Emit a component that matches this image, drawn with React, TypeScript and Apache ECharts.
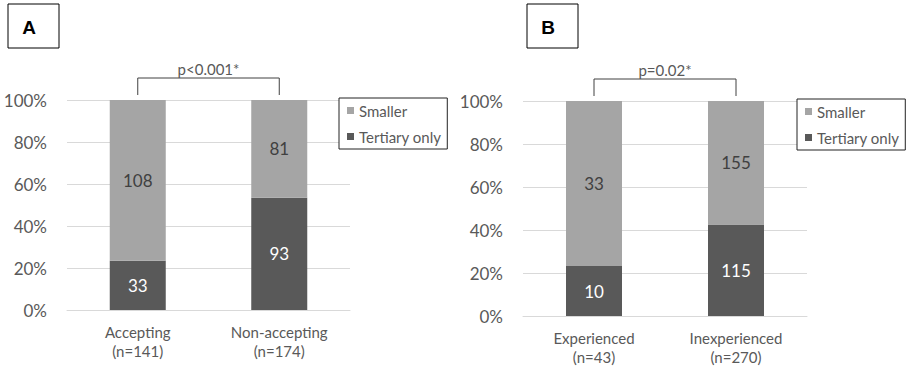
import React, { useEffect, useRef } from "react";
import * as echarts from "echarts";

const categoriesA = ["Accepting\n(n=141)", "Non-accepting\n(n=174)"];
const tertiaryA = [33, 93];
const smallerA = [108, 81];

const categoriesB = ["Experienced\n(n=43)", "Inexperienced\n(n=270)"];
const tertiaryB = [10, 115];
const smallerB = [33, 155];

const yTicks = [0, 20, 40, 60, 80, 100];
const legendNames = ["Smaller", "Tertiary only"];
const panelLabels = ["A", "B"];
const pLabels = ["p<0.001*", "p=0.02*"];

const LIGHT = "#a5a5a5";
const DARK = "#595959";
const TEXT = "#595959";
const FONT = "Lato, 'Open Sans', sans-serif";

function pct(part: number[], a: number[], b: number[]) {
  return part.map((v, i) => (v / (a[i] + b[i])) * 100);
}

export default function App() {
  const ref = useRef<HTMLDivElement>(null);
  useEffect(() => {
    document.body.style.margin = "0";
    const chart = echarts.init(ref.current!, undefined, { renderer: "svg" });

    const grids = [
      { left: 67, right: 909 - 350, top: 100, bottom: 366 - 310 },
      { left: 523, right: 909 - 807, top: 101, bottom: 366 - 316 },
    ];
    const cats = [categoriesA, categoriesB];
    const data = [
      { t: tertiaryA, s: smallerA },
      { t: tertiaryB, s: smallerB },
    ];

    const xAxis = cats.map((c, i) => ({
      type: "category",
      gridIndex: i,
      data: c,
      axisTick: { show: false },
      axisLine: { lineStyle: { color: "#d9d9d9" } },
      axisLabel: { color: TEXT, fontFamily: FONT, fontSize: 15, lineHeight: 19, margin: 12 },
    }));
    const yAxis = [0, 1].map((i) => ({
      type: "value",
      gridIndex: i,
      min: yTicks[0],
      max: yTicks[yTicks.length - 1],
      interval: yTicks[1] - yTicks[0],
      axisLine: { show: false },
      axisTick: { show: false },
      splitLine: { lineStyle: { color: "#d9d9d9" } },
      axisLabel: { color: TEXT, fontFamily: FONT, fontSize: 17, margin: 20, formatter: "{value}%" },
    }));

    const series: any[] = [];
    data.forEach((d, i) => {
      const counts = { t: d.t, s: d.s };
      series.push({
        type: "bar",
        name: "Tertiary only",
        xAxisIndex: i,
        yAxisIndex: i,
        stack: "s" + i,
        barWidth: 56,
        itemStyle: { color: DARK },
        data: pct(d.t, d.t, d.s),
        label: {
          show: true,
          position: "inside",
          color: "#ffffff",
          fontFamily: FONT,
          fontSize: 17,
          formatter: (p: any) => String(counts.t[p.dataIndex]),
        },
      });
      series.push({
        type: "bar",
        name: "Smaller",
        xAxisIndex: i,
        yAxisIndex: i,
        stack: "s" + i,
        barWidth: 56,
        itemStyle: { color: LIGHT },
        data: pct(d.s, d.t, d.s),
        label: {
          show: true,
          position: "inside",
          color: "#404040",
          fontFamily: FONT,
          fontSize: 17,
          formatter: (p: any) => String(counts.s[p.dataIndex]),
        },
      });
    });

    const legendPos = [
      { left: 339, top: 98 },
      { left: 797, top: 99 },
    ];
    const legend = legendPos.map((lp) => ({
      ...lp,
      orient: "vertical",
      data: legendNames,
      itemWidth: 7,
      itemHeight: 7,
      itemGap: 11,
      icon: "rect",
      borderColor: "#222",
      borderWidth: 1,
      backgroundColor: "#fff",
      padding: [5, 6, 5, 8],
      selectedMode: false,
      textStyle: { color: TEXT, fontFamily: FONT, fontSize: 15 },
    }));

    chart.setOption({
      animation: false,
      grid: grids,
      xAxis,
      yAxis,
      series,
      legend,
    });

    const graphic: any[] = [];
    const labelBoxes = [
      { x: 8, y: 4 },
      { x: 527, y: 4 },
    ];
    labelBoxes.forEach((b, i) => {
      graphic.push({
        type: "rect",
        shape: { x: b.x, y: b.y, width: 51, height: 44 },
        style: { fill: "#fff", stroke: "#000", lineWidth: 1 },
      });
      graphic.push({
        type: "text",
        x: b.x + 21,
        y: b.y + 23,
        style: {
          text: panelLabels[i],
          font: "bold 19px 'Liberation Sans', Arial, sans-serif",
          fill: "#000",
          textAlign: "center",
          textVerticalAlign: "middle",
        },
      });
    });

    [0, 1].forEach((i) => {
      const p0 = chart.convertToPixel({ gridIndex: i }, [0, 100]) as number[];
      const p1 = chart.convertToPixel({ gridIndex: i }, [1, 100]) as number[];
      const yTop = p0[1] - 22;
      const yBot = p0[1] - 5;
      graphic.push({
        type: "polyline",
        shape: {
          points: [
            [p0[0], yBot],
            [p0[0], yTop],
            [p1[0], yTop],
            [p1[0], yBot],
          ],
        },
        style: { stroke: "#404040", lineWidth: 1, fill: "none" },
      });
      graphic.push({
        type: "text",
        x: (p0[0] + p1[0]) / 2,
        y: yTop - 9,
        style: {
          text: pLabels[i],
          font: `15px ${FONT}`,
          fill: TEXT,
          textAlign: "center",
          textVerticalAlign: "middle",
        },
      });
    });

    chart.setOption({ graphic });

    return () => chart.dispose();
  }, []);
  return <div ref={ref} style={{ width: 909, height: 366 }} />;
}
